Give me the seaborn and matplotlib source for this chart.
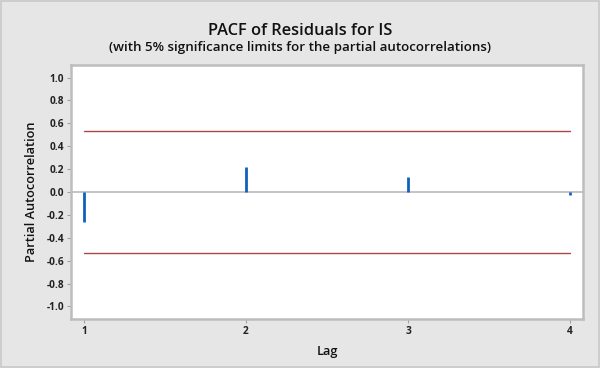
import matplotlib
matplotlib.use("Agg")
import matplotlib.pyplot as plt
import seaborn as sns
import pandas as pd
from matplotlib.patches import Rectangle

lags = [1, 2, 3, 4]
pacf = [-0.26, 0.22, 0.13, -0.03]
limit = 0.533
y_ticks = [1.0, 0.8, 0.6, 0.4, 0.2, 0.0, -0.2, -0.4, -0.6, -0.8, -1.0]

sns.set_theme(style="white")
plt.rcParams['font.family'] = ['Open Sans', 'DejaVu Sans']

bg = "#e6e6e6"
fig = plt.figure(figsize=(6.0, 3.68), dpi=100, facecolor=bg)
fig.patches.append(Rectangle((0.002, 0.003), 0.996, 0.994, transform=fig.transFigure,
                             fill=False, edgecolor="#c8c8c8", linewidth=1.2))
ax = fig.add_axes([0.1183, 0.1332, 0.8534, 0.6902])
ax.set_facecolor("white")

df_lim = pd.DataFrame({"Lag": [lags[0], lags[-1]] * 2,
                       "v": [limit, limit, -limit, -limit],
                       "g": ["u", "u", "l", "l"]})
ax.axhline(0, color="#c4c4c4", lw=1.4, zorder=1)
sns.lineplot(data=df_lim, x="Lag", y="v", units="g", estimator=None,
             color="#a84848", lw=1.0, ax=ax, zorder=2)
ax.vlines(lags, 0, pacf, color="#1060c0", lw=2.0, zorder=3)

ax.set_xlim(0.92, 4.08)
ax.set_ylim(-1.11, 1.11)
ax.set_xticks(lags)
ax.set_xticklabels([str(l) for l in lags])
ax.set_yticks(y_ticks)
ax.set_yticklabels([f"{t:.1f}" for t in y_ticks])
ax.tick_params(axis="both", which="both", labelsize=7.3, length=3, width=0.8,
               color="#a0a0a0", direction="out", bottom=True, left=True, pad=2)
for lab in ax.get_xticklabels() + ax.get_yticklabels():
    lab.set_fontweight("bold")
    lab.set_color("#222222")
for s in ax.spines.values():
    s.set_color("#bdbdbd")
    s.set_linewidth(1.8)

ax.set_xlabel("Lag", fontsize=9.2, fontweight="semibold", labelpad=6, color="#111111")
ax.set_ylabel("Partial Autocorrelation", fontsize=9.2, fontweight="semibold",
              labelpad=6, color="#111111")

fig.text(0.5, 0.915, "PACF of Residuals for IS", ha="center", va="center",
         fontsize=11.8, fontweight="semibold", color="#111111")
fig.text(0.5, 0.870, "(with 5% significance limits for the partial autocorrelations)",
         ha="center", va="center", fontsize=9.6, fontweight="semibold", color="#111111")

fig.savefig("out.png", dpi=100, facecolor=bg)
